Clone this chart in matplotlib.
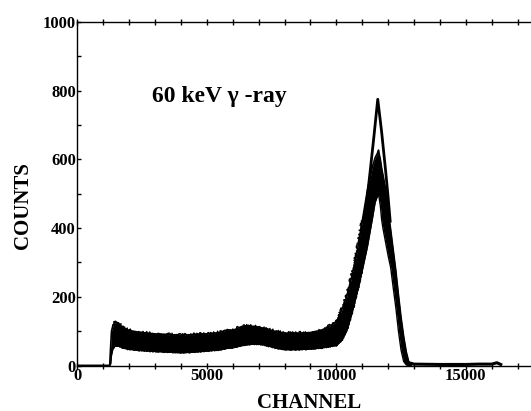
import matplotlib
matplotlib.use("Agg")
import matplotlib.pyplot as plt
from matplotlib.ticker import MultipleLocator

plt.rcParams['font.family'] = ['Liberation Serif', 'DejaVu Serif']
plt.rcParams['font.weight'] = 'bold'

# Broad (noisy) spectrum band: channel, upper and lower envelope of counts
band_ch = [0, 1250, 1290, 1320, 1380, 1450, 1550, 1650, 1800, 2000, 2300, 2600, 3000,
           3500, 4000, 4500, 5000, 5500, 5800, 6000, 6300, 6500, 6800, 7000, 7200,
           7600, 8000, 8500, 9000, 9500, 10000, 10200, 10400, 10600, 10800, 11000,
           11200, 11400, 11500, 11600, 11630, 11650, 11700, 11750, 11800, 11900,
           12000, 12100, 12200, 12300, 12400, 12500, 12600, 12700, 12800, 12900]
band_hi = [0, 0, 60, 100, 118, 124, 125, 118, 108, 102, 98, 95, 92,
           90, 88, 90, 92, 96, 104, 102, 112, 115, 114, 112, 108,
           100, 94, 94, 96, 104, 126, 160, 200, 260, 330, 420,
           510, 580, 605, 620, 627, 618, 600, 575, 555, 515,
           450, 395, 335, 275, 205, 140, 85, 40, 10, 4]
band_lo = [0, 0, 5, 30, 50, 56, 57, 55, 50, 47, 45, 43, 41,
           39, 37, 39, 42, 46, 50, 52, 57, 60, 62, 62, 60,
           52, 46, 46, 48, 52, 58, 72, 100, 150, 210, 275,
           345, 430, 475, 495, 495, 490, 465, 425, 400, 360,
           320, 285, 225, 168, 100, 45, 12, 2, 0, 0]

# Sharper (higher-resolution) spectrum around the photopeak
peak_ch = [11050, 11150, 11300, 11450, 11600, 11750, 11900, 12000, 12080]
peak_ct = [420, 460, 560, 665, 775, 680, 570, 490, 420]

# High-channel tail
tail_ch = [12800, 13000, 14000, 15000, 15500, 16000, 16200, 16350]
tail_ct = [8, 4, 3, 3, 4, 4, 8, 3]

x_major = [0, 5000, 10000, 15000]
y_major = [0, 200, 400, 600, 800, 1000]

W, H = 531, 411
fig = plt.figure(figsize=(W / 100, H / 100), dpi=100)
left_px, right_px, top_px, bot_px = 77.3, 531.0, 22.0, 365.5
ax = fig.add_axes([left_px / W, 1 - bot_px / H, (right_px - left_px) / W, (bot_px - top_px) / H])

ax.fill_between(band_ch, band_lo, band_hi, color='black', lw=0)
ax.plot(band_ch, band_hi, color='black', lw=1.2)
ax.plot(band_ch, band_lo, color='black', lw=1.0)
# noisy texture along the flat-continuum part of the upper / lower edges
i0, i1 = band_ch.index(1380), band_ch.index(11000) + 1
l_hi, = ax.plot(band_ch[i0:i1], band_hi[i0:i1], color='black', lw=1.0)
l_hi.set_sketch_params(1.6, 1.5, 2.0)
l_lo, = ax.plot(band_ch[i0:i1], band_lo[i0:i1], color='black', lw=0.8)
l_lo.set_sketch_params(0.8, 1.5, 2.0)
ax.plot(peak_ch, peak_ct, color='black', lw=2.0)
ax.plot(tail_ch, tail_ct, color='black', lw=2.2)

ax.set_xlim(0, 5000 * (right_px - left_px) / 129.5)
ax.set_ylim(0, 1000)

ax.spines['right'].set_visible(False)
for s in ['left', 'bottom', 'top']:
    ax.spines[s].set_linewidth(1.0)

ax.set_xticks(x_major)
ax.set_yticks(y_major)
ax.xaxis.set_minor_locator(MultipleLocator(1000))
ax.yaxis.set_minor_locator(MultipleLocator(100))
ax.tick_params(axis='x', which='both', direction='inout', length=4, width=1,
               top=True, labelsize=12, pad=0)
ax.tick_params(axis='y', which='both', direction='in', length=3, width=1,
               labelsize=12, pad=1)
ax.set_xticklabels([str(v) for v in x_major], fontweight='bold')
ax.set_yticklabels([str(v) for v in y_major], fontweight='bold')

fig.text(152 / W, 1 - 101.7 / H, '60 keV \u03b3 -ray', fontsize=17, fontweight='bold',
         ha='left', va='baseline')
fig.text(309 / W, 1 - 408 / H, 'CHANNEL', fontsize=15, fontweight='bold',
         ha='center', va='baseline')
fig.text(23 / W, 1 - 205.5 / H, 'COUNTS', fontsize=15, fontweight='bold',
         ha='center', va='center', rotation=90)

fig.savefig('out.png', dpi=100)
